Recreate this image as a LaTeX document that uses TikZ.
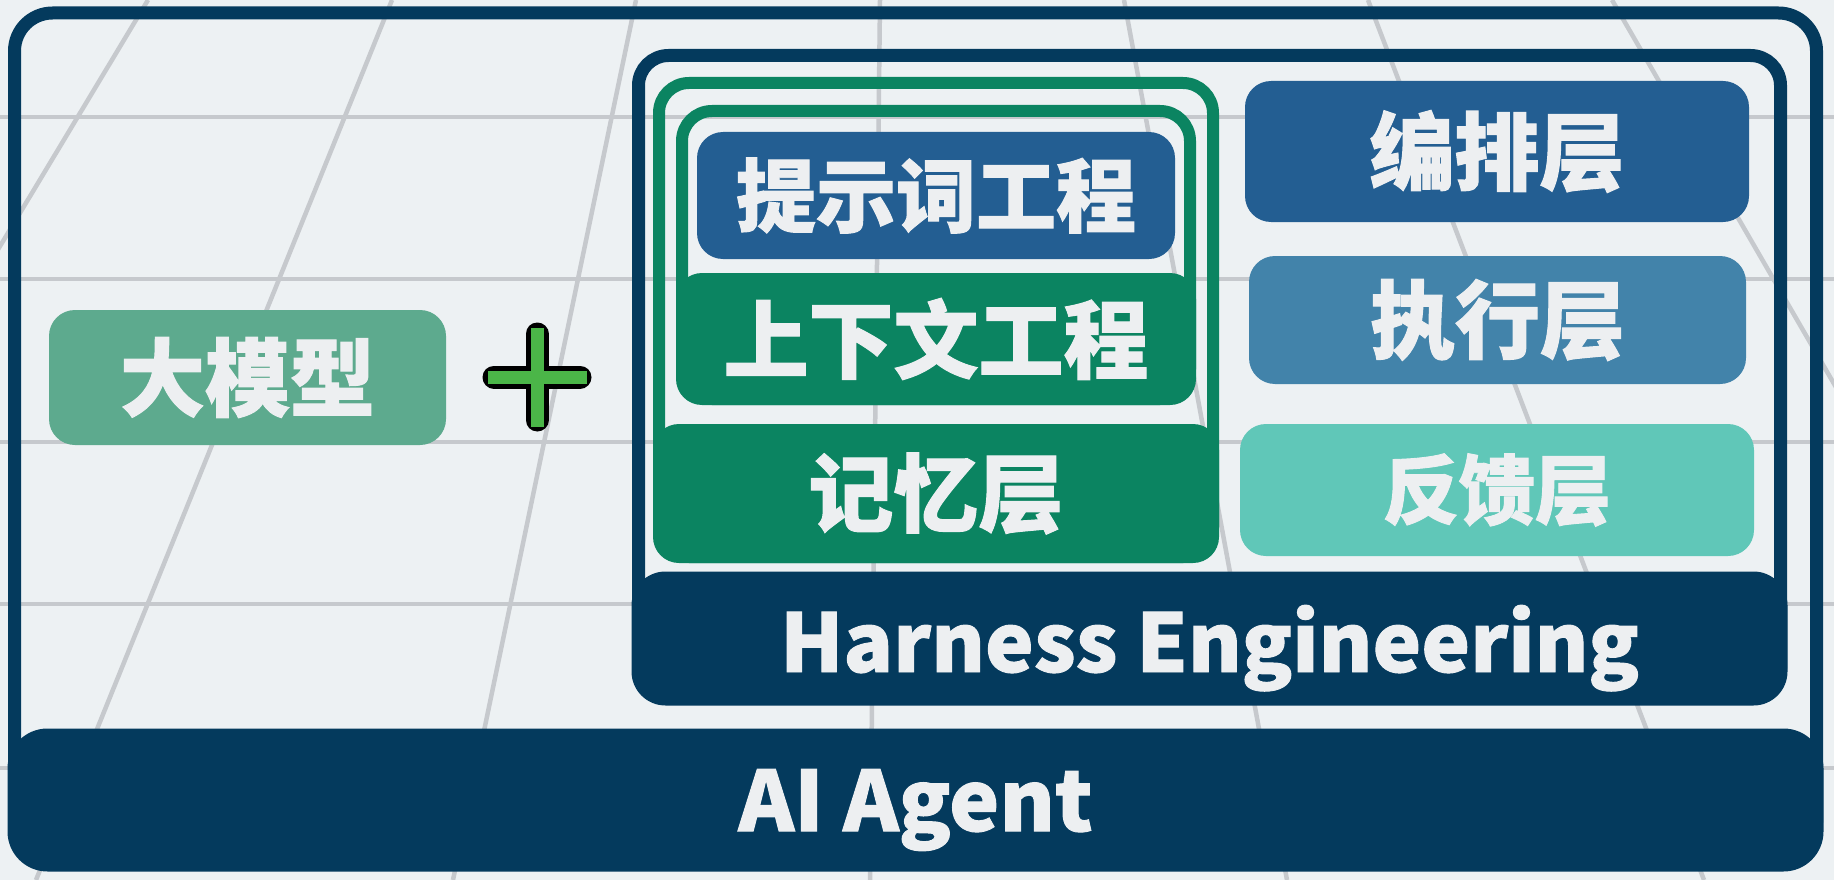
\documentclass[tikz,border=0pt]{standalone}
\usepackage{graphicx}
\usepackage{fontspec}
\newfontfamily\cjk{Noto Sans CJK SC}[BoldFeatures={FakeBold=1.2}]
\usepackage{tikz}

\definecolor{bgcol}{HTML}{EDF1F3}
\definecolor{gridcol}{HTML}{C6C9CD}
\definecolor{navy}{HTML}{043A5D}
\definecolor{deepblue}{HTML}{235E92}
\definecolor{midblue}{HTML}{4283AA}
\definecolor{lightteal}{HTML}{60C7B8}
\definecolor{layergreen}{HTML}{0B8461}
\definecolor{sage}{HTML}{5DAA8E}
\definecolor{plusgreen}{HTML}{4BB648}
\definecolor{txtcol}{HTML}{EDEFF1}

\begin{document}
\begin{tikzpicture}[x=1pt,y=-1pt,
        frame/.style={draw,rectangle,inner sep=0pt,rounded corners=30pt},
        layer/.style={rectangle,inner sep=0pt,rounded corners=26pt,text=txtcol,
            font=\cjk\bfseries\fontsize{85}{85}\selectfont},
        gridline/.style={draw=gridcol,line width=4.5pt}]
    \useasboundingbox (0,0) rectangle (1834,880);
    \fill[bgcol] (0,0) rectangle (1834,880);

    % floor grid
    \begin{scope}
        \clip (0,0) rectangle (1834,880);
        \foreach \k in {-5,...,5}
            \draw[gridline] ({880+244*(\k)},0) -- ({870+417*(\k)},880);
        \foreach \y in {117,279,442,604,768}
            \draw[gridline] (0,\y) -- (1834,\y);
    \end{scope}

    % frames
    \node (agentframe) [frame,draw=navy,line width=13pt,rounded corners=38pt,
        minimum width=1802pt,minimum height=847pt] at (915.5,436.5) {};
    \node (harnessframe) [frame,draw=navy,line width=13pt,
        minimum width=1142pt,minimum height=642.5pt] at (1209.5,376.75) {};
    \node (memframe) [frame,draw=layergreen,line width=12pt,
        minimum width=554pt,minimum height=474pt] at (936,320) {};
    \node (ctxframe) [frame,draw=layergreen,line width=12pt,
        minimum width=508pt,minimum height=288pt] at (936,255) {};

    % layers
    \node (prompt) [layer,fill=deepblue,minimum width=478pt,minimum height=127pt,
        font=\cjk\bfseries\fontsize{80}{80}\selectfont] at (936,195.5) {提示词工程};
    \node (context) [layer,fill=layergreen,minimum width=520pt,minimum height=132pt] at (936,339) {上下文工程};
    \node (memory) [layer,fill=layergreen,minimum width=566pt,minimum height=139pt] at (936,493.5) {记忆层};
    \node (orchestrate) [layer,fill=deepblue,minimum width=504pt,minimum height=141pt] at (1497,151.5) {编排层};
    \node (execute) [layer,fill=midblue,minimum width=497pt,minimum height=128pt] at (1497.5,320) {执行层};
    \node (feedback) [layer,fill=lightteal,minimum width=514pt,minimum height=132pt,
        font=\cjk\bfseries\fontsize{76}{76}\selectfont] at (1497,490) {反馈层};
    \node (llm) [layer,fill=sage,minimum width=397pt,minimum height=135pt] at (247.5,377.5) {大模型};

    % bars
    \node (harness) [layer,fill=navy,rounded corners=34pt,minimum width=1156pt,minimum height=134pt,
        text depth=0pt] at (1209.5,638.5) {\resizebox{859pt}{67pt}{\cjk\bfseries Harness Engineering}};
    \node (agent) [layer,fill=navy,rounded corners=40pt,minimum width=1816pt,minimum height=143pt,
        text depth=0pt] at (915.5,800) {\resizebox{354pt}{62pt}{\cjk\bfseries AI Agent}};

    % plus sign
    \coordinate (plus) at (537,377);
    \draw[black,line width=23pt,line cap=round] (plus) ++(-43,0) -- ++(86,0);
    \draw[black,line width=23pt,line cap=round] (plus) ++(0,-43) -- ++(0,86);
    \draw[plusgreen,line width=13pt,line cap=rect] (plus) ++(-43,0) -- ++(86,0);
    \draw[plusgreen,line width=13pt,line cap=rect] (plus) ++(0,-43) -- ++(0,86);
\end{tikzpicture}
\end{document}
